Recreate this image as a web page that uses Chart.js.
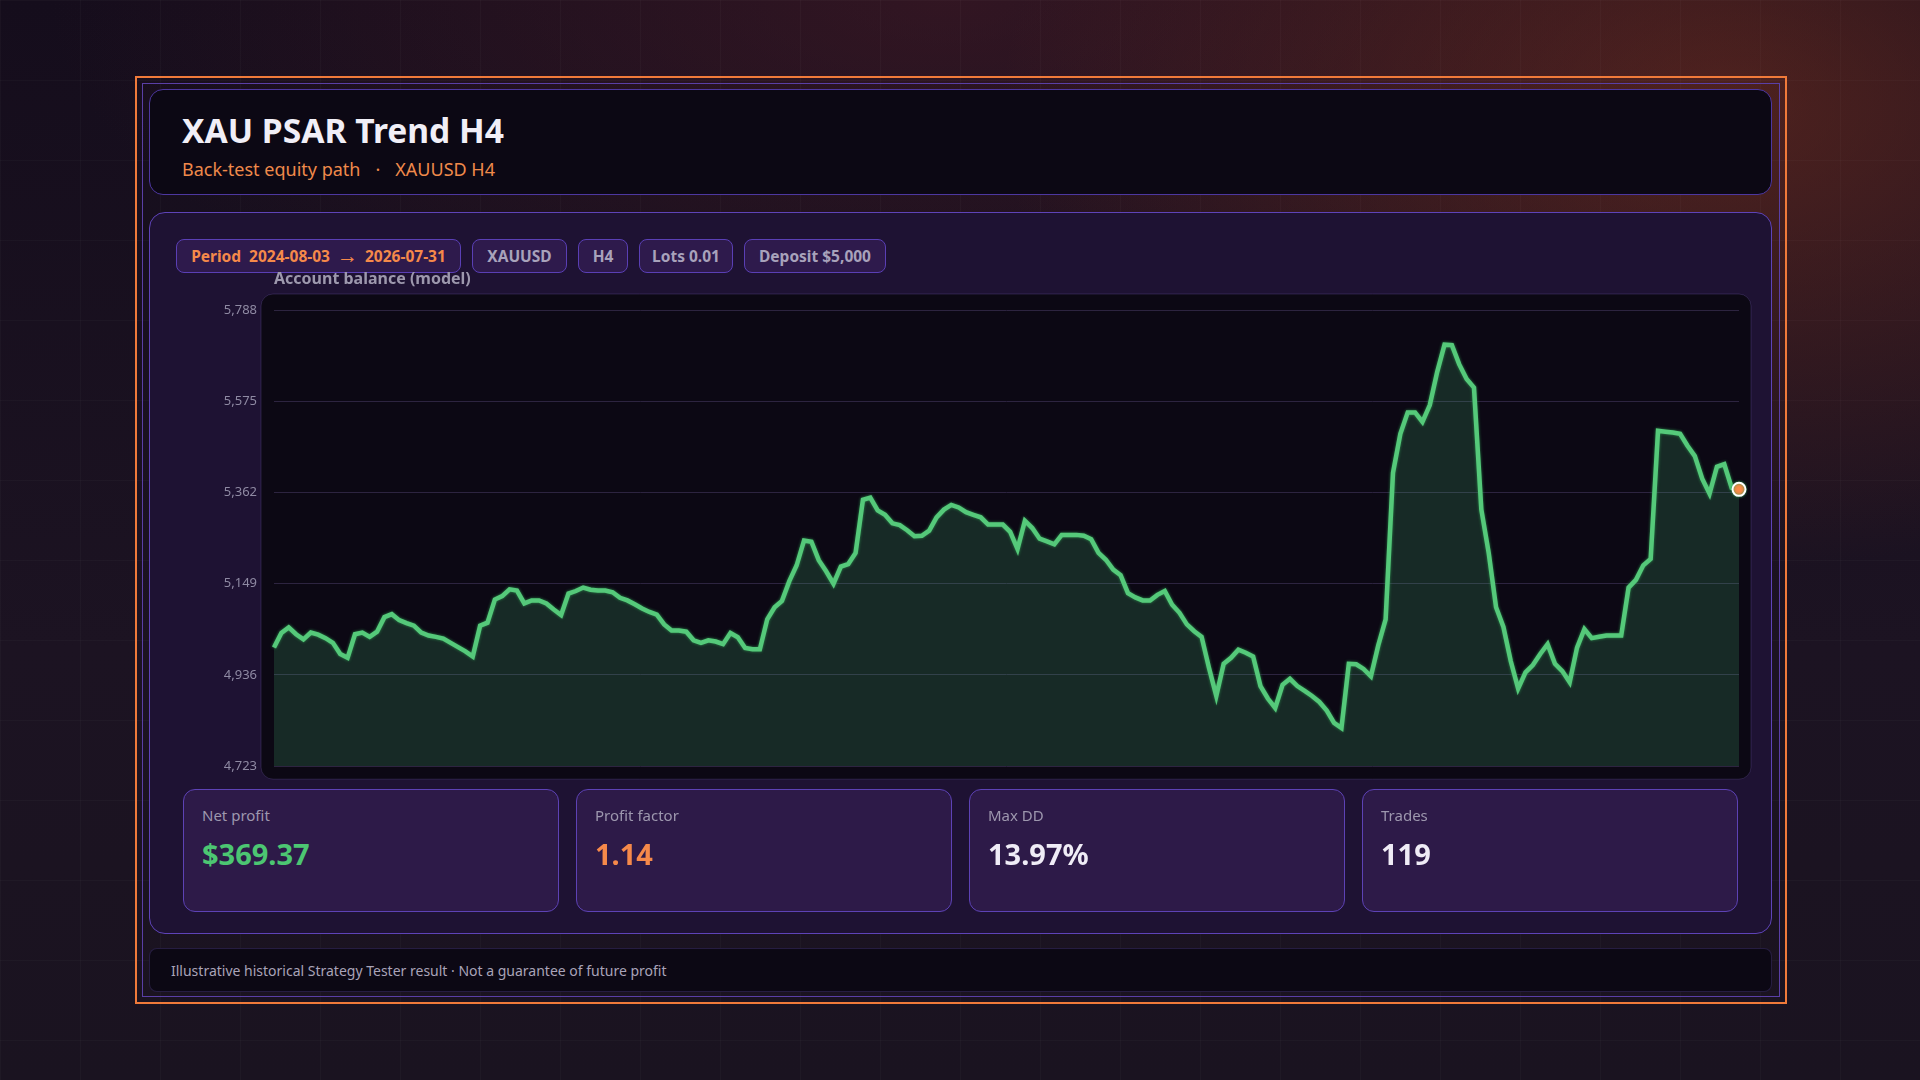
<!DOCTYPE html>
<html>
<head>
<meta charset="utf-8">
<title>XAU PSAR Trend H4</title>
<script src="https://cdn.jsdelivr.net/npm/chart.js@4.4.1/dist/chart.umd.min.js"></script>
<style>
  html, body { margin: 0; padding: 0; }
  body {
    width: 1920px; height: 1080px; overflow: hidden; position: relative;
    font-family: "Segoe UI", "Noto Sans", sans-serif;
    background:
      linear-gradient(rgba(255,255,255,0.022) 1px, transparent 1px) 0 0 / 80px 80px,
      linear-gradient(90deg, rgba(255,255,255,0.022) 1px, transparent 1px) 0 0 / 80px 80px,
      radial-gradient(ellipse 720px 460px at 1720px 110px, rgba(125,50,32,0.55), rgba(125,50,32,0) 100%),
      radial-gradient(ellipse 900px 380px at 950px 0px, rgba(85,32,42,0.45), rgba(85,32,42,0) 100%),
      linear-gradient(180deg, #150d1c 0%, #1c1322 60%, #1a1320 100%);
  }
  .frame { position: absolute; left: 135px; top: 76px; width: 1652px; height: 928px; box-sizing: border-box; border: 2px solid #f07a3a; }
  .inner { position: absolute; left: 142px; top: 83px; width: 1638px; height: 914px; box-sizing: border-box; border: 1.5px solid #5a3fa6; }
  .header { position: absolute; left: 149px; top: 89px; width: 1623px; height: 106px; box-sizing: border-box;
    background: #0c0814; border: 1px solid #4d37a0; border-radius: 14px; }
  .header h1 { position: absolute; left: 32px; top: 24px; margin: 0; font-size: 33.6px; line-height: 1; font-weight: 700; color: #f1eff7; }
  .header .sub { position: absolute; left: 32px; top: 70px; font-size: 18px; line-height: 1; color: #f08a4b; white-space: nowrap; }
  .header .sub .dot { margin: 0 15px; }
  .panel { position: absolute; left: 149px; top: 212px; width: 1623px; height: 722px; box-sizing: border-box;
    background: #1e1233; border: 1.5px solid #5e43b8; border-radius: 16px; }
  .badges { position: absolute; left: 176px; top: 239px; display: flex; gap: 11px; }
  .badge { height: 34px; box-sizing: border-box; border: 1px solid #5a3fb5; background: #2e1a4c; border-radius: 8px;
    display: flex; align-items: center; justify-content: center; font-size: 15.5px; font-weight: 700; color: #a8a2bb; white-space: nowrap; }
  .badge.period { color: #f5894a; }
  .badge.period .gap { display: inline-block; width: 8px; }
  .badge.period .arrow { margin: 0 7px; font-size: 21px; line-height: 1; position: relative; top: -1px; }
  .chart-wrap { position: absolute; left: 176px; top: 265px; width: 1580px; height: 526px; }
  .card { position: absolute; top: 789px; width: 376px; height: 123px; box-sizing: border-box;
    background: #2d1a48; border: 1px solid #5d42b5; border-radius: 12px; }
  .card .lbl { position: absolute; left: 18px; top: 18px; font-size: 15px; line-height: 1; color: #9d97ae; }
  .card .val { position: absolute; left: 18px; top: 49px; font-size: 29px; line-height: 1; font-weight: 700; color: #efecf6; }
  .footer { position: absolute; left: 149px; top: 948px; width: 1623px; height: 44px; box-sizing: border-box;
    background: #0c0814; border: 1px solid rgba(90,68,150,0.35); border-radius: 8px;
    display: flex; align-items: center; padding-left: 21px; font-size: 14px; color: #a9a3b8; }
</style>
</head>
<body>
<div class="frame"></div>
<div class="inner"></div>

<div class="header">
  <h1>XAU PSAR Trend H4</h1>
  <div class="sub">Back-test equity path<span class="dot">·</span>XAUUSD H4</div>
</div>

<div class="panel"></div>

<div class="badges">
  <div class="badge period" style="width:285px">Period<span class="gap"></span> 2024-08-03<span class="arrow">&rarr;</span>2026-07-31</div>
  <div class="badge" style="width:95px">XAUUSD</div>
  <div class="badge" style="width:50px">H4</div>
  <div class="badge" style="width:94px">Lots 0.01</div>
  <div class="badge" style="width:142px">Deposit $5,000</div>
</div>

<div class="chart-wrap"><canvas id="equityChart"></canvas></div>

<div id="cards"></div>

<div class="footer">Illustrative historical Strategy Tester result · Not a guarantee of future profit</div>

<script>
// account balance after each step
const balance = [
  5000, 5034, 5047, 5031, 5019, 5035, 5030, 5022, 5011, 4985,
  4976, 5031, 5035, 5025, 5037, 5071, 5078, 5064, 5057, 5051,
  5035, 5028, 5025, 5021, 5011, 5001, 4991, 4979, 5051, 5058,
  5112, 5120, 5136, 5133, 5103, 5110, 5110, 5103, 5089, 5076,
  5126, 5132, 5140, 5135, 5133, 5133, 5129, 5116, 5110, 5101,
  5091, 5083, 5077, 5054, 5040, 5040, 5037, 5017, 5011, 5017,
  5014, 5008, 5034, 5024, 4999, 4996, 4996, 5066, 5094, 5109,
  5155, 5192, 5250, 5247, 5204, 5178, 5149, 5189, 5195, 5221,
  5345, 5350, 5320, 5310, 5290, 5286, 5274, 5260, 5261, 5273,
  5304, 5322, 5333, 5327, 5316, 5310, 5304, 5287, 5287, 5287,
  5270, 5230, 5296, 5279, 5254, 5248, 5241, 5263, 5263, 5263,
  5261, 5253, 5221, 5205, 5182, 5169, 5127, 5117, 5110, 5110,
  5123, 5132, 5100, 5081, 5054, 5038, 5025, 4953, 4887, 4962,
  4976, 4995, 4988, 4979, 4910, 4881, 4859, 4913, 4927, 4910,
  4899, 4887, 4873, 4853, 4824, 4812, 4962, 4961, 4950, 4933,
  5005, 5066, 5408, 5499, 5549, 5549, 5527, 5566, 5643, 5707,
  5706, 5661, 5627, 5607, 5322, 5221, 5094, 5048, 4968, 4904,
  4942, 4959, 4985, 5008, 4962, 4945, 4919, 5000, 5043, 5022,
  5025, 5028, 5028, 5028, 5140, 5158, 5192, 5207, 5506, 5504,
  5502, 5499, 5471, 5447, 5394, 5359, 5422, 5428, 5373, 5369.37
];
const steps = balance.map((_, i) => i + 1);
const yTicks = [4723, 4936, 5149, 5362, 5575, 5788];

const statLabels = ['Net profit', 'Profit factor', 'Max DD', 'Trades'];
const statValues = ['$369.37', '1.14', '13.97%', '119'];
const statColors = ['#4cc672', '#f5894a', '#efecf6', '#efecf6'];

const cardsEl = document.getElementById('cards');
statLabels.forEach((label, i) => {
    const card = document.createElement('div');
    card.className = 'card';
    card.style.left = (183 + i * 393) + 'px';
    card.innerHTML = '<div class="lbl">' + label + '</div><div class="val">' + statValues[i] + '</div>';
    card.querySelector('.val').style.color = statColors[i];
    cardsEl.appendChild(card);
});

// dark rounded box behind the plot area
const plotBox = {
    id: 'plotBox',
    beforeDraw(chart) {
        const { ctx, chartArea: a } = chart;
        ctx.save();
        ctx.beginPath();
        ctx.roundRect(a.left - 13, a.top - 16, a.width + 25, a.height + 29, 12);
        ctx.fillStyle = '#0c0814';
        ctx.fill();
        ctx.strokeStyle = 'rgba(110, 90, 165, 0.3)';
        ctx.lineWidth = 1;
        ctx.stroke();
        ctx.restore();
    }
};

// darker halo around the equity line
const lineGlow = {
    id: 'lineGlow',
    beforeDatasetDraw(chart) {
        const ctx = chart.ctx;
        ctx.save();
        ctx.shadowColor = 'rgba(45, 150, 80, 0.9)';
        ctx.shadowBlur = 3;
    },
    afterDatasetDraw(chart) { chart.ctx.restore(); }
};

const lastIdx = balance.length - 1;
new Chart(document.getElementById('equityChart'), {
    type: 'line',
    data: {
        labels: steps,
        datasets: [{
            label: 'Balance',
            data: balance,
            borderColor: '#55c97a',
            borderWidth: 4.5,
            backgroundColor: 'rgba(80, 200, 120, 0.18)',
            fill: 'start',
            tension: 0,
            pointRadius: balance.map((_, i) => i === lastIdx ? 6.5 : 0),
            pointBackgroundColor: '#fb8a48',
            pointBorderColor: '#ffffff',
            pointBorderWidth: 2
        }]
    },
    options: {
        responsive: true, maintainAspectRatio: false, animation: false,
        layout: { padding: { top: 0, right: 17, bottom: 19, left: 0 } },
        plugins: {
            legend: { display: false },
            tooltip: { enabled: false },
            title: {
                display: true, text: 'Account balance (model)', align: 'start', fullSize: false,
                color: '#9d98ad', font: { family: '"Segoe UI", "Noto Sans", sans-serif', size: 16, weight: 'bold' },
                padding: { top: 5, bottom: 20.8 }
            }
        },
        scales: {
            x: { display: false },
            y: {
                min: yTicks[0], max: yTicks[yTicks.length - 1],
                afterBuildTicks: axis => { axis.ticks = yTicks.map(v => ({ value: v })); },
                afterFit: axis => { axis.width = 98; },
                grid: { color: '#2d2440', drawTicks: false },
                border: { display: false },
                ticks: {
                    padding: 17, color: '#8f8aa3',
                    font: { family: '"Segoe UI", "Noto Sans", sans-serif', size: 13 },
                    callback: v => Number(v).toLocaleString('en-US')
                }
            }
        }
    },
    plugins: [plotBox, lineGlow]
});
</script>
</body>
</html>
